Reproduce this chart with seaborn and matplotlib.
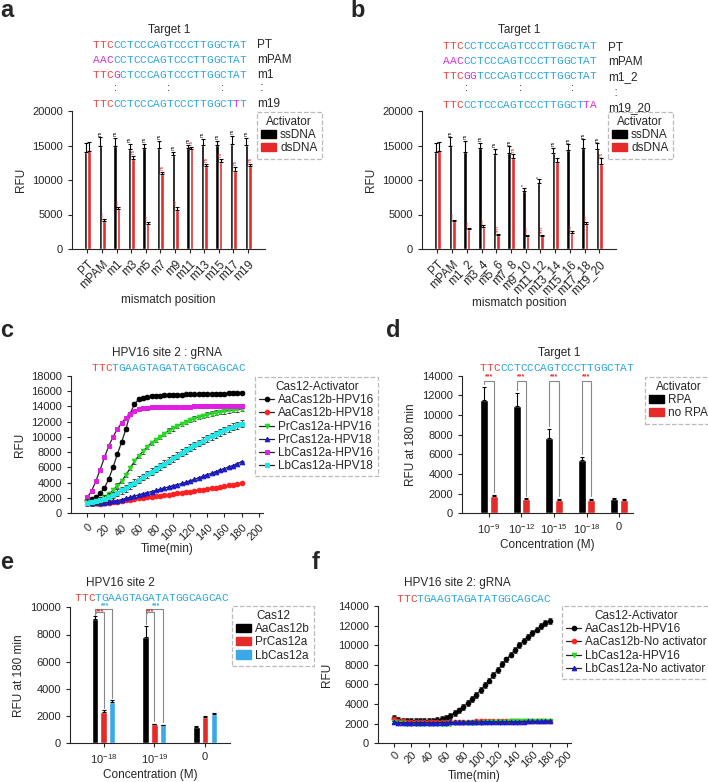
import numpy as np
import pandas as pd
import matplotlib
matplotlib.use('Agg')
import matplotlib.pyplot as plt
from matplotlib.patches import Patch
import seaborn as sns

# ---style---
sns.set_style('ticks')
plt.rcParams['font.family'] = ['Liberation Sans', 'DejaVu Sans']
plt.rcParams['mathtext.default'] = 'regular'
plt.rcParams['axes.linewidth'] = 0.8

W, H = 708, 782

# ---colours---
SEQ_RED = '#e8453c'
SEQ_BLUE = '#2aa6df'
SEQ_MAG = '#d42fd4'
BAR_RED = '#e52a2a'
BAR_CYAN = '#3aa9e8'

# ---panel a data---
pos_a = ['PT', 'mPAM', 'm1', 'm3', 'm5', 'm7', 'm9', 'm11', 'm13', 'm15', 'm17', 'm19']
ss_a = [14100, 14970, 15000, 14500, 14600, 14700, 13650, 14600, 15070, 15070, 15220, 15070]
ss_a_err = [1200, 1200, 1100, 700, 600, 1000, 400, 500, 900, 600, 1200, 1000]
ds_a = [14250, 4100, 5800, 13000, 3600, 10900, 5600, 14500, 12050, 12650, 11350, 12050]
ds_a_err = [1300, 250, 350, 500, 300, 300, 500, 300, 300, 400, 600, 300]
sig_a_ss = ['', 'ns', 'ns', 'ns', 'ns', 'ns', 'ns', 'ns', 'ns', 'ns', 'ns', 'ns']
sig_a_ds = ['', '***', '***', 'ns', '***', 'ns', '***', 'ns', 'ns', 'ns', 'ns', 'ns']

# ---panel b data---
pos_b = ['PT', 'mPAM', 'm1_2', 'm3_4', 'm5_6', 'm7_8', 'm9_10', 'm11_12', 'm13_14',
         'm15_16', 'm17_18', 'm19_20']
ss_b = [14100, 14970, 14100, 14600, 13720, 13960, 8400, 9610, 13960, 14350, 14690, 14490]
ss_b_err = [1200, 1200, 1600, 800, 800, 900, 500, 500, 700, 800, 1200, 800]
ds_b = [14250, 4060, 2850, 3240, 2030, 13240, 1880, 1900, 12650, 2370, 3620, 12320]
ds_b_err = [1300, 200, 200, 200, 150, 500, 150, 150, 600, 200, 300, 800]
sig_b_ss = ['', 'ns', 'ns', 'ns', 'ns', 'ns', '*', '*', 'ns', 'ns', 'ns', 'ns']
sig_b_ds = ['', '***', '***', '***', '****', 'ns', '****', '****', '', '***', '***', 'ns']

# ---panel c data---
time_min = np.arange(0, 185, 5)
c_names = ['AaCas12b-HPV16', 'AaCas12b-HPV18', 'PrCas12a-HPV16', 'PrCas12a-HPV18',
           'LbCas12a-HPV16', 'LbCas12a-HPV18']
c_aa16 = [1800, 1900, 2100, 2600, 3300, 4500, 6000, 7700, 9300, 11000, 13000, 14300, 14900,
          15100, 15200, 15300, 15400, 15400, 15450, 15450, 15500, 15500, 15500, 15550, 15550,
          15550, 15600, 15600, 15600, 15600, 15650, 15650, 15650, 15700, 15700, 15750, 15800]
c_aa18 = [1600, 1450, 1300, 1250, 1300, 1350, 1450, 1500, 1600, 1700, 1750, 1850, 1950,
          2000, 2100, 2150, 2250, 2300, 2400, 2450, 2550, 2600, 2700, 2800, 2850, 2950,
          3050, 3100, 3200, 3300, 3350, 3450, 3550, 3650, 3700, 3800, 3900]
c_pr16 = [1500, 1500, 1600, 1800, 2100, 2500, 3000, 3600, 4200, 5000, 5900, 6800, 7500,
          8100, 8700, 9200, 9600, 10000, 10400, 10800, 11100, 11400, 11700, 11950, 12200,
          12400, 12600, 12750, 12900, 13050, 13150, 13250, 13350, 13450, 13500, 13580, 13650]
c_pr18 = [1500, 1400, 1300, 1300, 1350, 1450, 1550, 1650, 1800, 1950, 2100, 2250, 2400,
          2550, 2700, 2850, 3000, 3150, 3300, 3450, 3600, 3750, 3900, 4050, 4250, 4450,
          4650, 4850, 5050, 5250, 5450, 5650, 5850, 6050, 6250, 6500, 6750]
c_lb16 = [2100, 2900, 4200, 5700, 7300, 8800, 10000, 11000, 11800, 12500, 13000, 13400, 13650,
          13750, 13800, 13850, 13850, 13900, 13900, 13900, 13900, 13950, 13950, 13950, 13950,
          14000, 14000, 14000, 14000, 14000, 14050, 14050, 14050, 14050, 14100, 14100, 14100]
c_lb18 = [1400, 1450, 1550, 1700, 1900, 2150, 2400, 2700, 3000, 3300, 3650, 4000, 4400,
          4750, 5100, 5450, 5800, 6150, 6500, 6850, 7200, 7550, 7900, 8250, 8600, 8900,
          9200, 9500, 9800, 10100, 10350, 10600, 10850, 11100, 11300, 11500, 11700]
c_err = [250, 80, 300, 80, 150, 450]
c_colors = ['#000000', '#ff2020', '#22dd22', '#1a1acc', '#e020e0', '#22e6e6']
c_markers = ['o', 'o', 'v', '^', 's', 's']

# ---panel d data---
conc_d = ['$10^{-9}$', '$10^{-12}$', '$10^{-15}$', '$10^{-18}$', '0']
rpa_d = [11500, 10900, 7700, 5400, 1500]
rpa_d_err = [1400, 1300, 900, 350, 60]
norpa_d = [1800, 1450, 1400, 1400, 1400]
norpa_d_err = [60, 60, 60, 60, 60]

# ---panel e data---
conc_e = ['$10^{-18}$', '$10^{-19}$', '0']
aa_e = [9150, 7850, 1200]
aa_e_err = [200, 800, 50]
pr_e = [2300, 1400, 1950]
pr_e_err = [120, 50, 50]
lb_e = [3060, 1330, 2170]
lb_e_err = [100, 40, 40]

# ---panel f data---
f_names = ['AaCas12b-HPV16', 'AaCas12b-No activator', 'LbCas12a-HPV16', 'LbCas12a-No activator']
f_aa16 = [2600, 2350, 2300, 2250, 2250, 2250, 2250, 2250, 2250, 2300, 2350, 2450, 2600,
          2800, 3050, 3350, 3700, 4100, 4500, 4950, 5400, 5900, 6400, 6950, 7500, 8050,
          8550, 9050, 9550, 10000, 10450, 10850, 11250, 11600, 11950, 12250, 12500]
f_aa0 = [2500, 2300, 2250, 2200, 2200, 2200, 2200, 2200, 2200, 2200, 2200, 2200, 2200,
         2200, 2200, 2200, 2200, 2200, 2200, 2250, 2250, 2250, 2250, 2250, 2250, 2250,
         2250, 2250, 2300, 2300, 2300, 2300, 2300, 2300, 2300, 2300, 2300]
f_lb16 = [2200, 2100, 2050, 2000, 2000, 2000, 1980, 1980, 1980, 1980, 1980, 2000, 2000,
          2000, 2020, 2040, 2060, 2080, 2100, 2100, 2120, 2140, 2160, 2180, 2200, 2200,
          2220, 2240, 2240, 2260, 2260, 2280, 2280, 2300, 2300, 2300, 2300]
f_lb0 = [2150, 2100, 2100, 2100, 2100, 2100, 2100, 2100, 2100, 2100, 2120, 2120, 2120,
         2140, 2140, 2140, 2150, 2150, 2160, 2160, 2170, 2180, 2180, 2190, 2190, 2200,
         2200, 2200, 2210, 2220, 2220, 2230, 2230, 2240, 2240, 2250, 2250]
f_err = [300, 80, 80, 80]
f_colors = ['#000000', '#ff2020', '#22dd22', '#1a1acc']
f_markers = ['o', 'o', 'v', '^']

fig = plt.figure(figsize=(W / 100, H / 100), dpi=100)


def place(x0, y0, x1, y1):
    return fig.add_axes([x0 / W, 1 - y1 / H, (x1 - x0) / W, (y1 - y0) / H])


def ftext(x, y, s, **kw):
    fig.text(x / W, 1 - y / H, s, **kw)


def seq(x, y, parts, size=8):
    # one glyph per monospace cell (0.6 em wide), coloured per chunk
    cell = 0.6 * size * 100 / 72
    i = 0
    for txt, col in parts:
        for ch in txt:
            ftext(x + (i + 0.5) * cell, y, ch, color=col, family='Liberation Mono',
                  fontsize=size, ha='center', va='center')
            i += 1


def legend_box(ax, handles, labels, title, x, y):
    leg = ax.legend(handles, labels, title=title, loc='upper left',
                    bbox_to_anchor=(x / W, 1 - y / H), bbox_transform=fig.transFigure,
                    fontsize=8.5, title_fontsize=8.5, handlelength=1.3, handletextpad=0.3,
                    borderpad=0.35, labelspacing=0.1, borderaxespad=0, fancybox=False,
                    frameon=True)
    fr = leg.get_frame()
    fr.set_linestyle('--')
    fr.set_edgecolor('#aaaaaa')
    fr.set_linewidth(0.9)
    return leg


def bar_panel(ax, cats, groups, vals, errs, colors, width, gap):
    rows = []
    for g, v in zip(groups, vals):
        for c, val in zip(cats, v):
            rows.append({'cat': c, 'grp': g, 'val': val})
    df = pd.DataFrame(rows)
    sns.barplot(data=df, x='cat', y='val', hue='grp', order=cats, hue_order=groups,
                palette=colors, width=width, gap=gap, errorbar=None, legend=False,
                saturation=1, ax=ax)
    centers = []
    for cont, v, e in zip(ax.containers, vals, errs):
        xs = [p.get_x() + p.get_width() / 2 for p in cont]
        centers.append(xs)
        ax.errorbar(xs, v, yerr=[np.zeros(len(e)), e], fmt='none', ecolor='k',
                    elinewidth=0.8, capsize=1.5, capthick=0.8)
    ax.set_xlabel('')
    ax.set_ylabel('')
    sns.despine(ax=ax)
    ax.tick_params(labelsize=8, length=3, width=0.8)
    return centers


def style_axes(ax):
    sns.despine(ax=ax)
    ax.tick_params(labelsize=8, length=3, width=0.8)


# ---panel a---
ax_a = place(72, 111, 265, 249)
cen = bar_panel(ax_a, pos_a, ['ssDNA', 'dsDNA'], [ss_a, ds_a], [ss_a_err, ds_a_err],
                ['#000000', BAR_RED], 0.48, 0)
for xs, v, e, s, col in [(cen[0], ss_a, ss_a_err, sig_a_ss, 'k'), (cen[1], ds_a, ds_a_err, sig_a_ds, BAR_RED)]:
    for x, vv, ee, ss in zip(xs, v, e, s):
        if ss:
            ax_a.text(x, vv + ee + 250, ss, rotation=90, fontsize=3.5, color=col,
                      ha='center', va='bottom')
ax_a.set_ylim(0, 20000)
ax_a.set_xlim(-1.06, 12.16)
ax_a.set_yticks([0, 5000, 10000, 15000, 20000])
ax_a.set_ylabel('RFU', fontsize=8.5)
ax_a.set_xlabel('mismatch position', fontsize=8.5, labelpad=2)
ax_a.tick_params(axis='x', labelsize=8.5)
plt.setp(ax_a.get_xticklabels(), rotation=45, ha='right', rotation_mode='anchor')
legend_box(ax_a, [Patch(color='k'), Patch(color=BAR_RED)], ['ssDNA', 'dsDNA'],
           'Activator', 257, 112)

# ---panel b---
ax_b = place(422, 111, 616, 249)
cen = bar_panel(ax_b, pos_b, ['ssDNA', 'dsDNA'], [ss_b, ds_b], [ss_b_err, ds_b_err],
                ['#000000', BAR_RED], 0.48, 0)
for xs, v, e, s, col in [(cen[0], ss_b, ss_b_err, sig_b_ss, 'k'), (cen[1], ds_b, ds_b_err, sig_b_ds, BAR_RED)]:
    for x, vv, ee, ss in zip(xs, v, e, s):
        if ss:
            ax_b.text(x, vv + ee + 250, ss, rotation=90, fontsize=3.5, color=col,
                      ha='center', va='bottom')
ax_b.set_ylim(0, 20000)
ax_b.set_xlim(-1.05, 12.14)
ax_b.set_yticks([0, 5000, 10000, 15000, 20000])
ax_b.set_ylabel('RFU', fontsize=8.5)
ax_b.set_xlabel('mismatch position', fontsize=8.5, labelpad=0)
ax_b.tick_params(axis='x', labelsize=8.5)
plt.setp(ax_b.get_xticklabels(), rotation=45, ha='right', rotation_mode='anchor')
legend_box(ax_b, [Patch(color='k'), Patch(color=BAR_RED)], ['ssDNA', 'dsDNA'],
           'Activator', 608, 112)

# ---panel c---
ax_c = place(71, 375.7, 263, 513.3)
for name, vals, err, col, mk in zip(c_names, [c_aa16, c_aa18, c_pr16, c_pr18, c_lb16, c_lb18],
                                    c_err, c_colors, c_markers):
    ax_c.errorbar(time_min, vals, yerr=err, fmt='none', ecolor='#333333', elinewidth=0.6,
                  capsize=1.5, capthick=0.6)
    sns.lineplot(x=time_min, y=vals, color='#222222', lw=0.9, marker=mk, markersize=3.3,
                 markerfacecolor=col, markeredgecolor=col, label=name, ax=ax_c)
style_axes(ax_c)
ax_c.set_xlim(-19, 205)
ax_c.set_ylim(0, 18000)
ax_c.set_xticks(range(0, 201, 20))
ax_c.set_yticks(range(0, 18001, 2000))
plt.setp(ax_c.get_xticklabels(), rotation=45, ha='right', rotation_mode='anchor')
ax_c.set_xlabel('Time(min)', fontsize=8.5, labelpad=0)
ax_c.set_ylabel('RFU', fontsize=8.5)
h, l = ax_c.get_legend_handles_labels()
legend_box(ax_c, h, l, 'Cas12-Activator', 255, 377)

# ---panel d---
ax_d = place(462, 375.7, 633, 513.3)
cen = bar_panel(ax_d, conc_d, ['RPA', 'no RPA'], [rpa_d, norpa_d], [rpa_d_err, norpa_d_err],
                ['#000000', BAR_RED], 0.58, 0.12)
for i in range(4):
    x0, x1 = cen[0][i], cen[1][i]
    yb = 13500
    ax_d.plot([x0, x0, x1, x1], [rpa_d[i] + rpa_d_err[i] + 300, yb, yb, norpa_d[i] + norpa_d_err[i] + 300],
              color='#888888', lw=0.8)
    ax_d.text((x0 + x1) / 2, yb + 50, '***', color=BAR_RED, fontsize=5, ha='center',
              va='bottom', fontweight='bold')
ax_d.set_ylim(0, 14000)
ax_d.set_xlim(-0.83, 4.43)
ax_d.set_yticks(range(0, 14001, 2000))
ax_d.set_ylabel('RFU at 180 min', fontsize=8.5)
ax_d.set_xlabel('Concentration (M)', fontsize=8.5, labelpad=2)
legend_box(ax_d, [Patch(color='k'), Patch(color=BAR_RED)], ['RPA', 'no RPA'],
           'Activator', 645, 377)

# ---panel e---
ax_e = place(70, 607.3, 230, 743.3)
cen = bar_panel(ax_e, conc_e, ['AaCas12b', 'PrCas12a', 'LbCas12a'], [aa_e, pr_e, lb_e],
                [aa_e_err, pr_e_err, lb_e_err], ['#000000', BAR_RED, BAR_CYAN], 0.51, 0.25)
for i in range(2):
    xa, xp, xl = cen[0][i], cen[1][i], cen[2][i]
    ax_e.plot([xa, xa, xl, xl], [aa_e[i] + aa_e_err[i] + 100, 9850, 9850, lb_e[i] + lb_e_err[i] + 200],
              color='#888888', lw=0.8)
    ax_e.plot([xa + 0.03, xa + 0.03, xp, xp], [9600, 9650, 9650, pr_e[i] + pr_e_err[i] + 200],
              color='#888888', lw=0.8)
    ax_e.text((xa + xl) / 2 + 0.03, 9870, '***', color=BAR_CYAN, fontsize=5, ha='center',
              va='bottom', fontweight='bold')
    ax_e.text((xa + xp) / 2 + 0.01, 9400, '***', color=BAR_RED, fontsize=5, ha='center',
              va='bottom', fontweight='bold')
ax_e.set_ylim(0, 10000)
ax_e.set_xlim(-0.66, 2.49)
ax_e.set_yticks(range(0, 10001, 2000))
ax_e.set_ylabel('RFU at 180 min', fontsize=8.5)
ax_e.set_xlabel('Concentration (M)', fontsize=8.5, labelpad=2)
legend_box(ax_e, [Patch(color='k'), Patch(color=BAR_RED), Patch(color=BAR_CYAN)],
           ['AaCas12b', 'PrCas12a', 'LbCas12a'], 'Cas12', 232, 606)

# ---panel f---
ax_f = place(378, 606, 571, 743.3)
for name, vals, err, col, mk in zip(f_names, [f_aa16, f_aa0, f_lb16, f_lb0], f_err,
                                    f_colors, f_markers):
    ax_f.errorbar(time_min, vals, yerr=err, fmt='none', ecolor='#333333', elinewidth=0.6,
                  capsize=1.5, capthick=0.6)
    sns.lineplot(x=time_min, y=vals, color='#222222', lw=0.9, marker=mk, markersize=3.3,
                 markerfacecolor=col, markeredgecolor=col, label=name, ax=ax_f)
style_axes(ax_f)
ax_f.set_xlim(-18.5, 204.6)
ax_f.set_ylim(0, 14000)
ax_f.set_xticks(range(0, 201, 20))
ax_f.set_yticks(range(0, 14001, 2000))
ax_f.tick_params(axis='x', pad=1.5)
plt.setp(ax_f.get_xticklabels(), rotation=45, ha='right', rotation_mode='anchor')
ax_f.set_xlabel('Time(min)', fontsize=8.5, labelpad=0)
ax_f.set_ylabel('RFU', fontsize=8.5)
h, l = ax_f.get_legend_handles_labels()
legend_box(ax_f, h, l, 'Cas12-Activator', 562, 606)

# ---sequence annotations---
tgt = 'CCTCCCAGTCCCTTGGCTAT'
hpv = 'TGAAGTAGATATGGCAGCAC'
# a
ftext(169, 30, 'Target 1', fontsize=8.5, ha='center', va='center')
seq(93, 45, [('TTC', SEQ_RED), (tgt, SEQ_BLUE)])
seq(93, 60, [('AAC', SEQ_MAG), (tgt, SEQ_BLUE)])
seq(93, 75, [('TTC', SEQ_RED), ('G', SEQ_MAG), (tgt[1:], SEQ_BLUE)])
seq(93, 104, [('TTC', SEQ_RED), (tgt[:18], SEQ_BLUE), ('T', SEQ_MAG), ('T', SEQ_BLUE)])
for x in [116, 169, 222]:
    ftext(x, 88, ':', fontsize=8, ha='center', va='center')
for y, s in [(45, 'PT'), (60, 'mPAM'), (75, 'm1'), (88, ' :'), (104, 'm19')]:
    ftext(257, y, s, fontsize=8.5, ha='left', va='center')
# b
ftext(519, 30, 'Target 1', fontsize=8.5, ha='center', va='center')
seq(443, 46, [('TTC', SEQ_RED), (tgt, SEQ_BLUE)])
seq(443, 61, [('AAC', SEQ_MAG), (tgt, SEQ_BLUE)])
seq(443, 76, [('TTC', SEQ_RED), ('GG', SEQ_MAG), (tgt[2:], SEQ_BLUE)])
seq(443, 105, [('TTC', SEQ_RED), (tgt[:18], SEQ_BLUE), ('TA', SEQ_MAG)])
for x in [467, 520, 572]:
    ftext(x, 88, ':', fontsize=8, ha='center', va='center')
for y, s in [(48, 'PT'), (62, 'mPAM'), (77, 'm1_2'), (93, '  :'), (108, 'm19_20')]:
    ftext(608, y, s, fontsize=8.5, ha='left', va='center')
# c-f
ftext(167, 353, 'HPV16 site 2 : gRNA', fontsize=8.5, ha='center', va='center')
seq(92, 368, [('TTC', SEQ_RED), (hpv, SEQ_BLUE)])
ftext(559, 353, 'Target 1', fontsize=8.5, ha='center', va='center')
seq(480, 368, [('TTC', SEQ_RED), (tgt, SEQ_BLUE)])
ftext(120, 583, 'HPV16 site 2', fontsize=8.5, ha='center', va='center')
seq(75, 598, [('TTC', SEQ_RED), (hpv, SEQ_BLUE)])
ftext(457, 583, 'HPV16 site 2: gRNA', fontsize=8.5, ha='center', va='center')
seq(397, 599, [('TTC', SEQ_RED), (hpv, SEQ_BLUE)])

# ---panel letters---
for x, y, s in [(0, 17, 'a'), (350, 17, 'b'), (0, 337, 'c'), (386, 337, 'd'),
                (0, 569, 'e'), (312, 569, 'f')]:
    ftext(x, y, s, fontsize=17, fontweight='bold', ha='left', va='baseline')

fig.savefig('out.png', dpi=100)
